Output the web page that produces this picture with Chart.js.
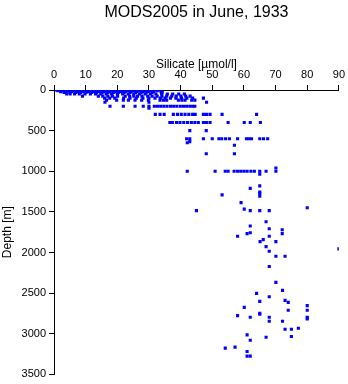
<!DOCTYPE html>
<html>
<head>
<meta charset="utf-8">
<script src="https://cdn.jsdelivr.net/npm/chart.js@4/dist/chart.umd.min.js"></script>
<style>
html,body{margin:0;padding:0;background:#fff;}
#c{display:block;}
</style>
</head>
<body>
<canvas id="c" width="348" height="384"></canvas>
<script>
const titleText = "MODS2005 in June, 1933";
const xTitle = "Silicate [\u00b5mol/l]";
const yTitle = "Depth [m]";
const xTicks = [0,10,20,30,40,50,60,70,80,90];
const yTicks = [0,500,1000,1500,2000,2500,3000,3500];

// Observation depths (m) and the silicate values (µmol/l) measured at each
const levelDepth = [0,10,20,30,50,75,100,125,150,200,225,300,400,500,600,635,650,680,785,960,1000,1035,1180,1210,1255,1275,1290,1307,1386,1449,1466,1484,1621,1674,1707,1719,1756,1768,1800,1842,1866,1927,1955,1985,2046,2172,2368,2466,2503,2544,2589,2601,2613,2654,2675,2711,2748,2760,2777,2797,2817,2846,2932,2944,3014,3034,3042,3079,3165,3177,3218,3275];
const levelSilicate = [
  [0.8,1.6,2.5,3.4,4.6,5.3,6.1,7.0,7.8,8.6,9.5,10.3,11.2,12.0,12.9,13.7,14.6,15.4,16.3,17.1,18.0,19.2,20.5,21.8,23.0,24.1,25.6,27.0,28.3,29.5,30.8,32.0,33.4],
  [1.2,2.8,4.4,5.9,7.3,8.9,10.6,12.2,13.8,15.1,16.7,18.4,19.9,21.5,23.4,25.0,26.8,28.9,30.4,32.6],
  [2.1,3.9,5.6,7.6,9.2,10.9,12.6,14.3,15.9,17.6,19.3,21.0,22.6,24.4,26.2,28.0,29.7,31.5,33.8],
  [3.2,5.0,6.8,8.4,10.1,11.8,13.4,15.2,17.0,18.7,20.3,22.1,24.0,25.8,27.5,29.1,31.0,34.2],
  [4.0,5.1,6.5,8.0,9.8,11.5,13.1,14.8,16.5,18.2,20.0,21.7,23.5,25.2,27.0,28.8,30.5,32.2,34.0,35.8,37.5,39.4,41.2],
  [9.0,14.0,15.4,17.0,18.5,20.1,22.5,23.9,25.2,26.4,27.8,29.6,31.0,32.6,34.1,35.6,37.2,38.6,40.1,41.6,43.0],
  [16.0,17.6,19.2,22.0,24.0,26.0,28.1,30.0,31.9,33.6,35.1,36.8,38.5,40.3,42.0,43.8,47.2],
  [16.6,19.8,21.9,23.5,25.6,27.7,29.8,33.5,34.6,35.6,39.3,40.4,41.4,43.5,44.5],
  [16.1,30.0,48.2],
  [17.7,21.9,25.6,28.2,30.0,31.7,32.7,33.7,34.7,35.7,36.8,37.8,38.8,39.9,40.9,41.9,42.9,43.8,44.5],
  [30.0],
  [32.0,33.5,34.8,37.7,39.0,40.2,41.4,42.6,43.8,44.6,47.2,48.2,49.3,53.1,64.0],
  [36.6,37.4,38.7,39.8,41.0,42.2,43.4,44.5,45.6,47.2,48.2,49.3,55.0,60.1,62.0,65.2],
  [42.9,48.1],
  [41.9,42.9,47.2,50.0,52.1,53.0,54.2,55.4,58.0,60.8,61.6,62.4,65.0,66.2,67.5],
  [42.9],
  [42.1],
  [57.0],
  [48.1,57.0],
  [70.1],
  [42.1,50.9,54.1,55.0,56.9,58.0,59.0,60.0,61.0,62.2,63.3,65.0,67.0,70.1],
  [65.0],
  [65.0],
  [62.0],
  [65.0],
  [65.0],
  [53.1],
  [65.0],
  [59.1],
  [80.0],
  [60.1],
  [45.0,62.0,65.0,68.0],
  [67.0],
  [62.0],
  [68.0],
  [72.1],
  [62.0],
  [61.0,72.1],
  [58.0,68.0],
  [66.1],
  [65.1,70.1],
  [67.0],
  [90.0],
  [68.0],
  [70.1,73.0],
  [68.0],
  [70.1],
  [72.2],
  [64.0],
  [68.0],
  [73.0],
  [65.0],
  [74.0],
  [80.0],
  [60.1],
  [74.0,80.0],
  [65.0],
  [65.0],
  [58.0],
  [62.0,68.0,80.0],
  [80.0],
  [68.0,72.2],
  [77.2],
  [73.0,75.0],
  [61.0],
  [75.0],
  [67.0],
  [62.0],
  [57.2],
  [54.1],
  [61.0],
  [61.0,62.0]
];

const points = [];
levelDepth.forEach((d, i) => {
  levelSilicate[i].forEach(s => points.push({x: s, y: d}));
});

const FONT = "Arial, 'Liberation Sans', Helvetica, sans-serif";
const TITLE_BLOCK = 16 * 1.2 + 3; // title font lineHeight + padding

new Chart(document.getElementById('c'), {
  type: 'scatter',
  data: {
    datasets: [{
      data: points,
      pointStyle: 'rect',
      pointRadius: 2.2,
      pointHoverRadius: 2.2,
      pointBorderWidth: 0,
      backgroundColor: '#0000ff',
      borderColor: '#0000ff'
    }]
  },
  options: {
    responsive: false,
    animation: false,
    devicePixelRatio: 1,
    layout: { padding: { left: 0, right: 9, top: 0, bottom: 8 } },
    plugins: {
      legend: { display: false },
      tooltip: { enabled: false },
      title: {
        display: true,
        fullSize: false,
        text: titleText,
        color: '#000',
        font: { family: FONT, size: 16, weight: 'normal' },
        padding: { top: 3, bottom: 0 }
      }
    },
    scales: {
      x: {
        type: 'linear',
        position: 'top',
        min: 0, max: 90,
        afterFit: s => { s.height = 90 - TITLE_BLOCK; },
        afterBuildTicks: s => { s.ticks = xTicks.map(v => ({value: v})); },
        ticks: { color: '#000', font: { family: FONT, size: 11 }, padding: 3, maxRotation: 0, callback: v => String(v) },
        grid: { drawOnChartArea: false, drawTicks: true, tickLength: 5, color: '#000', lineWidth: 1 },
        border: { display: true, color: '#000', width: 1 },
        title: { display: true, text: xTitle, color: '#000', font: { family: FONT, size: 12 }, padding: { top: 35, bottom: 0 } }
      },
      y: {
        type: 'linear',
        reverse: true,
        min: 0, max: 3500,
        afterFit: s => { s.width = 54; },
        afterBuildTicks: s => { s.ticks = yTicks.map(v => ({value: v})); },
        ticks: { color: '#000', font: { family: FONT, size: 11 }, padding: 3, callback: v => String(v) },
        grid: { drawOnChartArea: false, drawTicks: true, tickLength: 5, color: '#000', lineWidth: 1 },
        border: { display: true, color: '#000', width: 1 },
        title: { display: true, text: yTitle, color: '#000', font: { family: FONT, size: 12 }, padding: { top: 0, bottom: 0 } }
      }
    }
  }
});
</script>
</body>
</html>
